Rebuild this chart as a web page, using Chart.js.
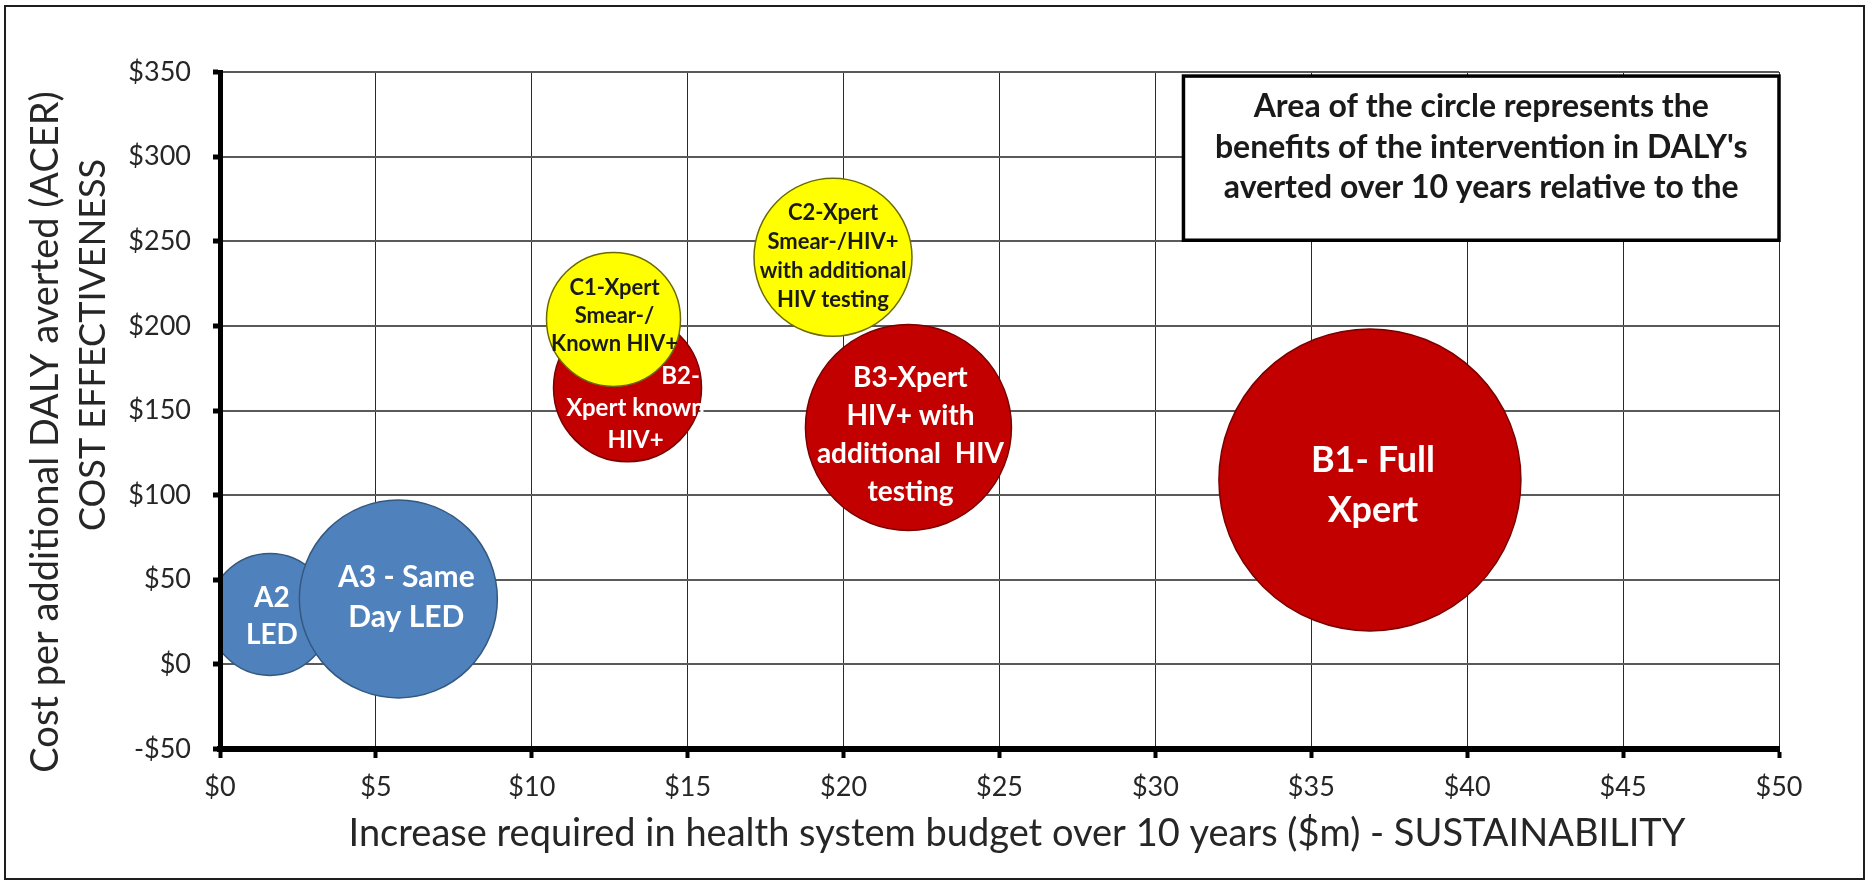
<!DOCTYPE html>
<html>
<head>
<meta charset="utf-8">
<title>Cost effectiveness vs sustainability</title>
<script src="https://cdn.jsdelivr.net/npm/chart.js@4.4.1/dist/chart.umd.min.js"></script>
<style>
  html, body { margin: 0; padding: 0; background: #fff; }
  #wrap { position: relative; width: 1868px; height: 881px; }
</style>
</head>
<body>
<div id="wrap"><canvas id="myChart"></canvas></div>
<script>
// values
// budget = $m over 10 years, acer = cost per DALY averted, size = bubble radius
const namesA = [['A2', 'LED'], ['A3 - Same', 'Day LED']];
const budgetA = [1.6, 5.72];
const acerA = [29.5, 38.7];
const sizeA = [61, 99];

const namesB = [['B1- Full', 'Xpert'], ['B2-', 'Xpert known', 'HIV+'], ['B3-Xpert', 'HIV+ with', 'additional  HIV', 'testing']];
const budgetB = [36.88, 13.07, 22.08];
const acerB = [109, 163.4, 140];
const sizeB = [151, 74, 103];

const namesC = [['C1-Xpert', 'Smear-/', 'Known HIV+'], ['C2-Xpert', 'Smear-/HIV+', 'with additional', 'HIV testing']];
const budgetC = [12.62, 19.66];
const acerC = [203.8, 240.5];
const sizeC = [67, 79];

const xTicks = [0, 5, 10, 15, 20, 25, 30, 35, 40, 45, 50];
const yTicks = [-50, 0, 50, 100, 150, 200, 250, 300, 350];

const xTitle = 'Increase required in health system budget over 10 years ($m) - SUSTAINABILITY';
const yTitle = ['Cost per additional DALY averted (ACER)', 'COST EFFECTIVENESS'];
const noteText = ['Area of the circle represents the', "benefits of the intervention in DALY's", 'averted over 10 years relative to the'];

// label styling (font size, line height, nudges)
const styleA = [{size: 28, lh: 37, dx: 2, dy: 2}, {size: 30, lh: 40, dx: 8, dy: -2}];
const styleB = [{size: 36, lh: 50, dx: 3, dy: 5}, {size: 24, lh: 32, dx: 8, dy: 20, lineDx: [45, 0, 0]}, {size: 28, lh: 38, dx: 2, dy: 8}];
const styleC = [{size: 22, lh: 28, dx: 1, dy: -4}, {size: 22, lh: 29, dx: 0, dy: -1}];

const fmt = v => (v < 0 ? '-$' + (-v) : '$' + v);
const pts = (xs, ys, rs) => xs.map((x, i) => ({x: x, y: ys[i], r: rs[i]}));

const decor = {
  id: 'decor',
  beforeDraw(chart) {
    const c = chart.ctx;
    c.save();
    c.fillStyle = '#fff';
    c.fillRect(0, 0, chart.width, chart.height);
    c.strokeStyle = '#1e1e1e';
    c.lineWidth = 2;
    c.strokeRect(5, 6, chart.width - 9, chart.height - 8);
    c.restore();
  },
  afterDatasetsDraw(chart) {
    const c = chart.ctx;
    c.save();
    c.textAlign = 'center';
    c.textBaseline = 'middle';
    chart.data.datasets.forEach((ds, i) => {
      const meta = chart.getDatasetMeta(i);
      meta.data.forEach((pt, j) => {
        const lines = ds.names[j];
        const st = ds.styles[j];
        c.fillStyle = ds.textColor;
        c.font = 'bold ' + st.size + 'px Lato';
        const y0 = pt.y + st.dy - (lines.length - 1) * st.lh / 2;
        lines.forEach((t, k) => {
          const ldx = st.lineDx ? st.lineDx[k] : 0;
          c.fillText(t, pt.x + st.dx + ldx, y0 + k * st.lh);
        });
      });
    });
    c.restore();
  },
  afterDraw(chart) {
    const c = chart.ctx;
    const xs = chart.scales.x, ys = chart.scales.y;
    c.save();
    // note box
    const bl = xs.getPixelForValue(30.9), br = xs.getPixelForValue(50);
    const bt = ys.getPixelForValue(347.6), bb = ys.getPixelForValue(250.6);
    c.fillStyle = '#fff';
    c.fillRect(bl, bt, br - bl, bb - bt);
    c.strokeStyle = '#000';
    c.lineWidth = 3.5;
    c.strokeRect(bl, bt, br - bl, bb - bt);
    c.fillStyle = '#1a1a1a';
    c.font = 'bold 32px Lato';
    c.textAlign = 'center';
    c.textBaseline = 'middle';
    noteText.forEach((t, k) => c.fillText(t, (bl + br) / 2, bt + 31 + k * 40.5));

    // axis titles
    c.fillStyle = '#262626';
    c.font = '38px Lato';
    c.textBaseline = 'alphabetic';
    c.fillText(xTitle, 1017, 846);
    c.save();
    c.translate(58, 432);
    c.rotate(-Math.PI / 2);
    c.font = '38px Lato';
    c.fillText(yTitle[0], 0, 0);
    c.restore();
    c.save();
    c.translate(105, 345);
    c.rotate(-Math.PI / 2);
    c.font = '36px Lato';
    c.fillText(yTitle[1], 0, 0);
    c.restore();
    c.restore();
  }
};

const ctx = document.getElementById('myChart');

const chart = new Chart(ctx, {
  type: 'bubble',
  data: {
    datasets: [
      {
        label: 'C', data: pts(budgetC, acerC, sizeC), names: namesC, styles: styleC,
        backgroundColor: '#ffff00', borderColor: '#6b6b00', borderWidth: 1.5, textColor: '#1a1a1a', order: 1
      },
      {
        label: 'B', data: pts(budgetB, acerB, sizeB), names: namesB, styles: styleB,
        backgroundColor: '#c20000', borderColor: '#7a0000', borderWidth: 1.5, textColor: '#fff', order: 2
      },
      {
        label: 'A', data: pts(budgetA, acerA, sizeA), names: namesA, styles: styleA,
        backgroundColor: '#4f81bd', borderColor: '#34597f', borderWidth: 1.5, textColor: '#fff', order: 3
      }
    ]
  },
  options: {
    responsive: true,
    maintainAspectRatio: false,
    devicePixelRatio: 1,
    animation: false,
    layout: { autoPadding: false, padding: { top: 72, right: 89, left: 0, bottom: 0 } },
    plugins: {
      legend: { display: false },
      tooltip: { enabled: false }
    },
    elements: { point: { hoverRadius: 0 } },
    scales: {
      x: {
        type: 'linear', min: 0, max: 50,
        afterBuildTicks: s => { s.ticks = xTicks.map(v => ({value: v})); },
        afterFit: s => { s.height = 132; },
        ticks: { callback: fmt, color: '#262626', font: { family: 'Lato', size: 27 }, padding: 13, maxRotation: 0, autoSkip: false },
        grid: { color: '#2a2a2a', lineWidth: 1, tickColor: '#000', tickWidth: 4, tickLength: 9 },
        border: { color: '#000', width: 6, z: 1 }
      },
      y: {
        type: 'linear', min: -50, max: 350,
        afterBuildTicks: s => { s.ticks = yTicks.map(v => ({value: v})); },
        afterFit: s => { s.width = 220; },
        ticks: { callback: fmt, color: '#262626', font: { family: 'Lato', size: 27 }, padding: 22, autoSkip: false },
        grid: { color: '#5a5a5a', lineWidth: 2, tickColor: '#000', tickWidth: 5, tickLength: 7 },
        border: { color: '#000', width: 5, z: 1 }
      }
    }
  },
  plugins: [decor]
});
</script>
</body>
</html>
